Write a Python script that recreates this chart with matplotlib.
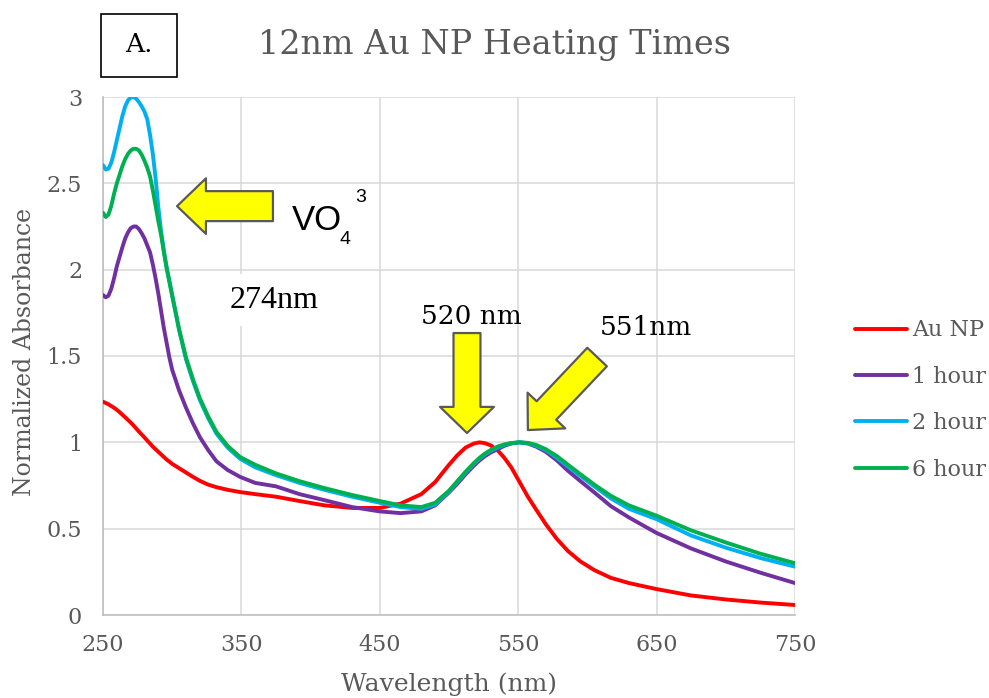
import numpy as np
import matplotlib
matplotlib.use('Agg')
import matplotlib.pyplot as plt
from matplotlib.patches import Rectangle

# wavelength grid (nm) shared by all spectra
wl = [250, 252, 254, 256, 258, 260, 262, 264, 266, 268, 270, 272, 274, 276, 278,
      280, 282, 284, 286, 288, 290, 292, 294, 296, 298, 300, 305, 310, 315, 320,
      326, 332, 340, 349, 360, 375, 392, 410, 430, 450, 465, 480, 490, 500, 506,
      512, 518, 522, 526, 530, 535, 540, 545, 551, 557, 563, 570, 578, 586, 595,
      605, 617, 630, 650, 675, 700, 725, 750]

au_np = [1.235, 1.228, 1.22, 1.21, 1.20, 1.188, 1.175, 1.16, 1.145, 1.13, 1.115,
         1.098, 1.08, 1.062, 1.045, 1.028, 1.01, 0.993, 0.975, 0.96, 0.945, 0.93,
         0.915, 0.90, 0.888, 0.875, 0.85, 0.825, 0.80, 0.777, 0.755, 0.74, 0.725,
         0.712, 0.70, 0.685, 0.66, 0.635, 0.62, 0.62, 0.645, 0.70, 0.77, 0.87,
         0.925, 0.97, 0.993, 1.0, 0.995, 0.983, 0.955, 0.91, 0.855, 0.77, 0.685,
         0.61, 0.525, 0.44, 0.37, 0.31, 0.26, 0.215, 0.185, 0.15, 0.113, 0.09,
         0.072, 0.058]

hour_1 = [1.853, 1.84, 1.85, 1.89, 1.95, 2.02, 2.075, 2.13, 2.18, 2.215, 2.24,
          2.25, 2.25, 2.235, 2.21, 2.18, 2.14, 2.10, 2.03, 1.95, 1.86, 1.76, 1.66,
          1.575, 1.49, 1.42, 1.30, 1.20, 1.11, 1.03, 0.955, 0.89, 0.84, 0.80,
          0.765, 0.745, 0.70, 0.665, 0.625, 0.60, 0.59, 0.60, 0.635, 0.71, 0.76,
          0.815, 0.865, 0.895, 0.92, 0.94, 0.96, 0.98, 0.993, 1.0, 0.993, 0.975,
          0.945, 0.895, 0.835, 0.775, 0.71, 0.63, 0.565, 0.475, 0.385, 0.31,
          0.245, 0.185]

hour_2 = [2.605, 2.58, 2.585, 2.62, 2.68, 2.75, 2.82, 2.89, 2.945, 2.98, 2.997,
          3.0, 2.99, 2.97, 2.945, 2.915, 2.87, 2.78, 2.67, 2.53, 2.36, 2.22, 2.11,
          2.01, 1.93, 1.85, 1.65, 1.48, 1.355, 1.245, 1.14, 1.05, 0.97, 0.905,
          0.855, 0.81, 0.765, 0.725, 0.685, 0.65, 0.625, 0.615, 0.64, 0.715, 0.77,
          0.825, 0.875, 0.905, 0.93, 0.95, 0.97, 0.985, 0.995, 1.0, 0.995, 0.98,
          0.955, 0.91, 0.86, 0.805, 0.745, 0.675, 0.615, 0.555, 0.46, 0.39, 0.33,
          0.28]

hour_6 = [2.33, 2.305, 2.32, 2.37, 2.44, 2.50, 2.55, 2.60, 2.64, 2.67, 2.69, 2.70,
          2.70, 2.69, 2.665, 2.63, 2.59, 2.54, 2.46, 2.37, 2.28, 2.20, 2.10, 2.01,
          1.93, 1.85, 1.655, 1.49, 1.365, 1.255, 1.15, 1.06, 0.98, 0.915, 0.87,
          0.82, 0.775, 0.735, 0.695, 0.66, 0.635, 0.625, 0.65, 0.72, 0.775, 0.83,
          0.88, 0.91, 0.935, 0.955, 0.975, 0.988, 0.996, 1.0, 0.997, 0.985, 0.96,
          0.92, 0.87, 0.815, 0.755, 0.69, 0.635, 0.575, 0.49, 0.42, 0.355, 0.30]

labels = ['Au NP', '1 hour', '2 hour', '6 hour']
colors = ['#FF0000', '#7030A0', '#00B0F0', '#00B050']
xticks = [250, 350, 450, 550, 650, 750]
yticks = [0, 0.5, 1, 1.5, 2, 2.5, 3]

W, H = 989, 698
SERIF = 'DejaVu Serif'
GREY = '#595959'

def fx(px):
    return px / W

def fy(py):
    return 1 - py / H

plt.rcParams['font.family'] = SERIF
fig = plt.figure(figsize=(W / 100, H / 100), dpi=100)
ax = fig.add_axes([fx(103), fy(615), (795 - 103) / W, (615 - 97) / H])

for ys, c, lab in zip([au_np, hour_1, hour_2, hour_6], colors, labels):
    ax.plot(wl, ys, color=c, lw=2.8, label=lab, solid_capstyle='round',
            solid_joinstyle='round', zorder=3)

ax.set_xlim(250, 750)
ax.set_ylim(0, 3)
ax.set_xticks(xticks)
ax.set_yticks(yticks)
ax.set_xticklabels([str(v) for v in xticks])
ax.set_yticklabels(['0', '0.5', '1', '1.5', '2', '2.5', '3'])
ax.tick_params(length=0, labelsize=16, labelcolor=GREY)
ax.tick_params(axis='x', pad=14)
ax.tick_params(axis='y', pad=15)
ax.grid(True, color='#D9D9D9', lw=1.1)
ax.set_axisbelow(True)
for s in ['top', 'right']:
    ax.spines[s].set_visible(False)
for s in ['left', 'bottom']:
    ax.spines[s].set_color('#BFBFBF')
    ax.spines[s].set_linewidth(1.2)

# arrows
arrow_kw = dict(fc='#FFFF00', ec=GREY, lw=1.6, shrinkA=0, shrinkB=0, mutation_scale=20)
ax.annotate('', xy=(303.5, 2.368), xytext=(372.8, 2.368),
            arrowprops=dict(arrowstyle='simple,head_length=1.04,head_width=2.0,tail_width=1.08', **arrow_kw),
            zorder=5)
ax.annotate('', xy=(513, 1.054), xytext=(513, 1.633),
            arrowprops=dict(arrowstyle='simple,head_length=0.94,head_width=1.94,tail_width=0.97', **arrow_kw),
            zorder=5)
ax.annotate('', xy=(557, 1.071), xytext=(607, 1.494),
            arrowprops=dict(arrowstyle='simple,head_length=0.97,head_width=1.87,tail_width=0.97', **arrow_kw),
            zorder=5)

# annotation texts
ax.text(373.6, 1.824, '274nm', family='Liberation Serif', size=23, color='black',
        ha='center', va='center', zorder=1,
        bbox=dict(boxstyle='square,pad=0.35', fc='white', ec='none'))
fig.text(fx(471), fy(316), '520 nm', size=19, color='black', ha='center', va='center')
fig.text(fx(646), fy(328), '551nm', size=19, color='black', ha='center', va='center')
fig.text(fx(292), fy(221), 'VO', family='Liberation Sans', size=25, color='black',
         ha='left', va='center')
fig.text(fx(340), fy(240), '4', family='Liberation Sans', size=14, color='black',
         ha='left', va='center')
fig.text(fx(355), fy(198), '3', family='Liberation Sans', size=14, color='black',
         ha='left', va='center')

# title and panel letter
fig.text(fx(495), fy(45), '12nm Au NP Heating Times', size=24, color=GREY,
         ha='center', va='center')
fig.patches.append(Rectangle((fx(101), fy(77)), (177 - 101) / W, (77 - 14) / H,
                             transform=fig.transFigure, fill=False, ec='black', lw=1.2))
fig.text(fx(139), fy(45), 'A.', size=19, color='black', ha='center', va='center')

# axis titles
fig.text(fx(25), fy(352), 'Normalized Absorbance', size=17, color=GREY,
         rotation=90, ha='center', va='center')
fig.text(fx(449), fy(684), 'Wavelength (nm)', size=18, color=GREY,
         ha='center', va='center')

leg = ax.legend(loc='center left', bbox_to_anchor=(fx(855), fy(400)),
                bbox_transform=fig.transFigure, frameon=False, fontsize=16,
                handlelength=2.35, handletextpad=0.2, labelspacing=1.1,
                borderpad=0, borderaxespad=0)
for t in leg.get_texts():
    t.set_color(GREY)

fig.savefig('out.png', dpi=100)
